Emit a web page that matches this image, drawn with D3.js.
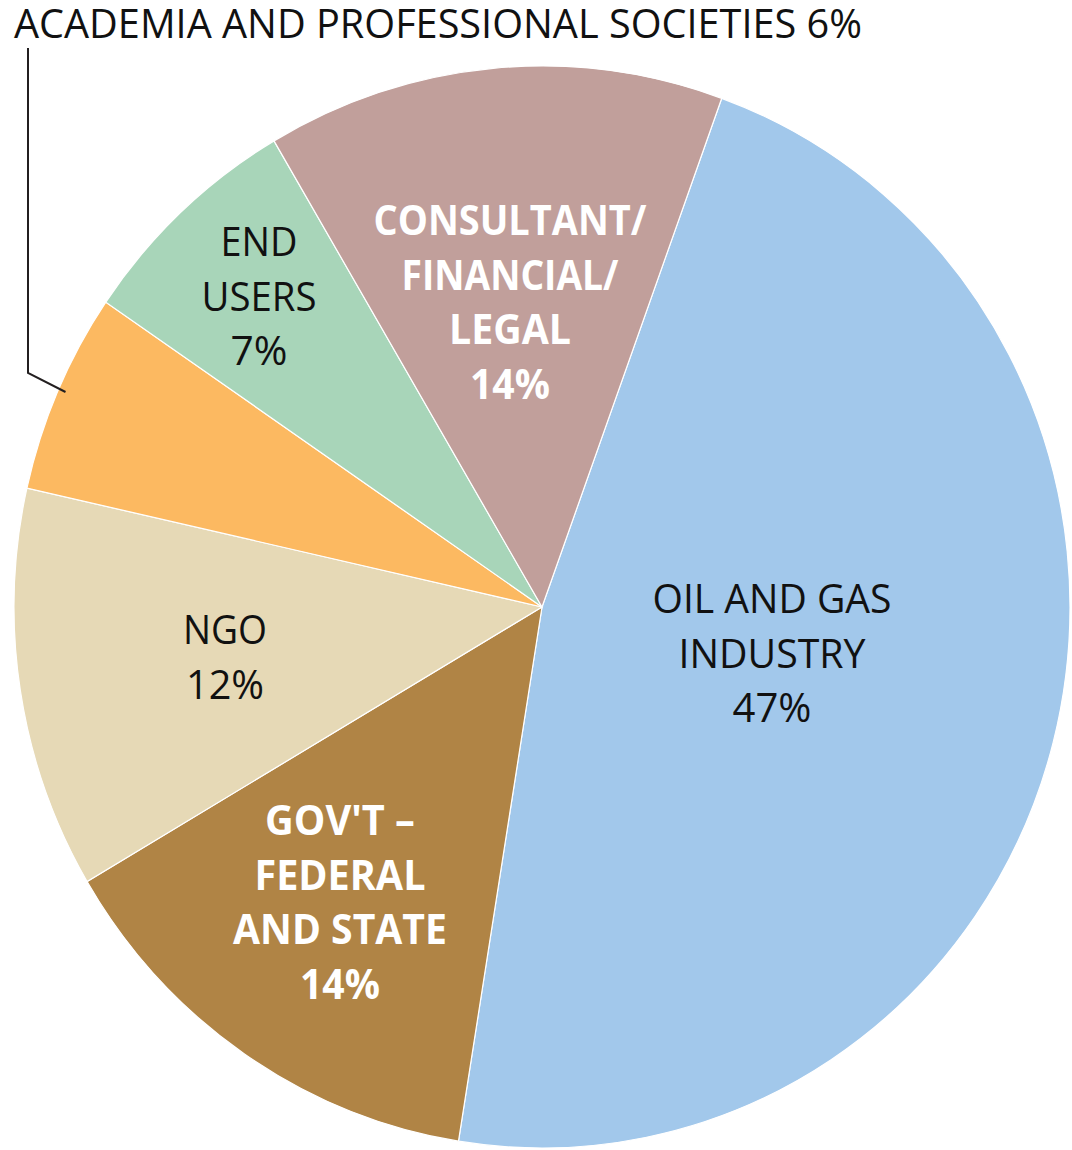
<!DOCTYPE html>
<html>
<head>
<meta charset="utf-8">
<script src="https://cdn.jsdelivr.net/npm/d3@7"></script>
<style>
  html, body { margin: 0; padding: 0; background: #fff; }
  svg { display: block; }
  text { font-family: "Open Sans", "Noto Sans", sans-serif; }
</style>
</head>
<body>
<svg id="chart" width="1072" height="1150"></svg>
<script>
// ---- data ----
const categories = ["OIL AND GAS INDUSTRY", "GOV'T – FEDERAL AND STATE", "NGO",
                    "ACADEMIA AND PROFESSIONAL SOCIETIES", "END USERS", "CONSULTANT/ FINANCIAL/ LEGAL"];
const values = [47, 14, 12, 6, 7, 14];
const colors = ["#a2c8eb", "#b08445", "#e6d9b6", "#fcb961", "#a8d5b9", "#c19f9b"];
const labelLines = [
  ["OIL AND GAS", "INDUSTRY", "47%"],
  ["GOV'T –", "FEDERAL", "AND STATE", "14%"],
  ["NGO", "12%"],
  null,
  ["END", "USERS", "7%"],
  ["CONSULTANT/", "FINANCIAL/", "LEGAL", "14%"]
];
const calloutText = "ACADEMIA AND PROFESSIONAL SOCIETIES 6%";

// ---- layout (positions / styles) ----
const cx = 542, cy = 607, R = 528, sy = 1.0246;
const startDeg = 19.9;
const labelLayout = [
  { x: 772, y: 613, fill: "#111", weight: 400, widths: [239, 187, 79] },
  { x: 340, y: 835, fill: "#fff", weight: 700, widths: [150, 171, 214, 80] },
  { x: 225, y: 644, fill: "#111", weight: 400, widths: [84, 78] },
  null,
  { x: 259, y: 256, fill: "#111", weight: 400, widths: [77, 115, 57] },
  { x: 510, y: 235, fill: "#fff", weight: 700, widths: [273, 217, 122, 80] }
];
const lineGap = 54.5;

const svg = d3.select("#chart");

const pie = d3.pie().sort(null).value(d => d)
  .startAngle(startDeg * Math.PI / 180)
  .endAngle(startDeg * Math.PI / 180 + 2 * Math.PI);
const arc = d3.arc().innerRadius(0).outerRadius(R);

const g = svg.append("g").attr("transform", `translate(${cx},${cy}) scale(1,${sy})`);
g.selectAll("path").data(pie(values)).join("path")
  .attr("d", arc)
  .attr("fill", (d, i) => colors[i])
  .attr("stroke", "#fff")
  .attr("stroke-width", 1.2)
  .attr("vector-effect", "non-scaling-stroke");

// labels
labelLines.forEach((lines, i) => {
  if (!lines) return;
  const L = labelLayout[i];
  const t = svg.append("text")
    .attr("text-anchor", "middle")
    .attr("fill", L.fill)
    .attr("font-weight", L.weight)
    .attr("font-size", 41);
  lines.forEach((s, k) => {
    t.append("tspan")
      .attr("x", L.x)
      .attr("y", L.y + k * lineGap)
      .attr("textLength", L.widths[k])
      .attr("lengthAdjust", "spacingAndGlyphs")
      .text(s);
  });
});

// callout
svg.append("text")
  .attr("x", 14).attr("y", 38)
  .attr("font-size", 41)
  .attr("fill", "#111")
  .attr("textLength", 848)
  .attr("lengthAdjust", "spacingAndGlyphs")
  .text(calloutText);

svg.append("path")
  .attr("d", d3.line()([[28, 48], [28, 373], [65.5, 392]]))
  .attr("fill", "none")
  .attr("stroke", "#231f20")
  .attr("stroke-width", 2);
</script>
</body>
</html>
